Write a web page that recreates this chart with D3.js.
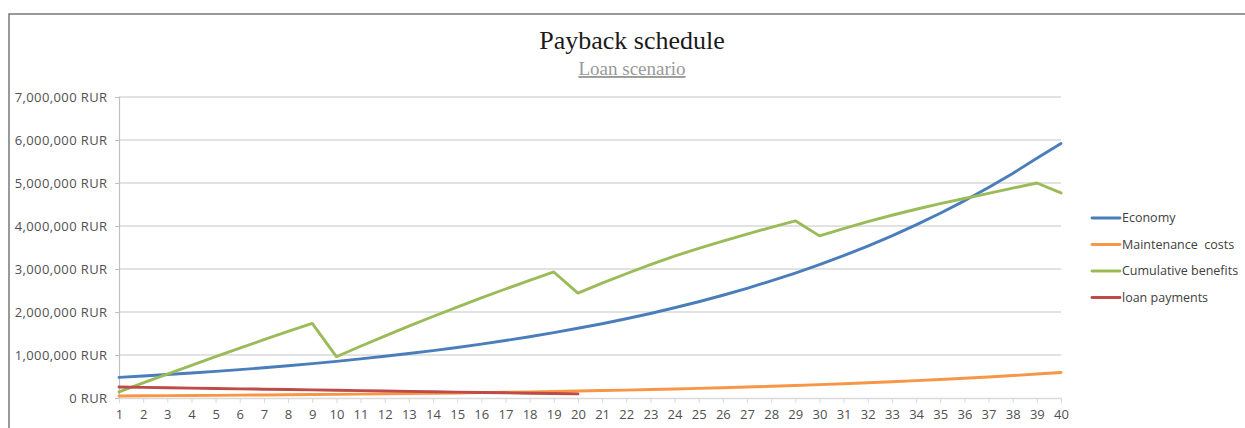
<!DOCTYPE html>
<html>
<head>
<meta charset="utf-8">
<script src="https://cdn.jsdelivr.net/npm/d3@7"></script>
<style>
  html, body { margin: 0; padding: 0; background: #ffffff; }
  svg { display: block; }
</style>
</head>
<body>
<svg id="chart" width="1245" height="428"></svg>
<script>
// ---- Data ----
const categories = d3.range(1, 41);

const economy = [
  480000, 511000, 545000, 581000, 620000, 661000, 704000, 751000, 800000, 853000,
  910000, 970000, 1034000, 1102000, 1175000, 1253000, 1336000, 1425000, 1520000, 1622000,
  1726000, 1842000, 1966000, 2098000, 2239000, 2390000, 2551000, 2723000, 2906000, 3102000,
  3310000, 3533000, 3771000, 4025000, 4296000, 4585000, 4894000, 5223000, 5574000, 5920000
];

const maintenance = [
  48000, 51000, 55000, 58000, 62000, 66000, 70000, 75000, 80000, 85000,
  91000, 97000, 103000, 110000, 118000, 125000, 134000, 143000, 152000, 162000,
  173000, 184000, 197000, 210000, 224000, 239000, 255000, 272000, 291000, 310000,
  331000, 353000, 377000, 403000, 430000, 459000, 489000, 522000, 557000, 594000
];

const cumulative = [
  140000, 350000, 557000, 761000, 962000, 1160000, 1355000, 1547000, 1736000,
  960000, 1203000, 1440000, 1671000, 1896000, 2115000, 2328000, 2535000, 2736000, 2931000,
  2440000, 2670000, 2890000, 3100000, 3300000, 3480000, 3650000, 3810000, 3970000, 4120000,
  3770000, 3940000, 4100000, 4250000, 4390000, 4520000, 4640000, 4760000, 4880000, 5000000,
  4770000
];

const loanPayments = [
  255000, 247000, 238000, 230000, 221000, 213000, 205000, 196000, 188000, 179000,
  171000, 163000, 154000, 146000, 137000, 129000, 121000, 112000, 104000, 95000
];

const yTicks = [0, 1000000, 2000000, 3000000, 4000000, 5000000, 6000000, 7000000];
const seriesNames = ["Economy", "Maintenance  costs", "Cumulative benefits", "loan payments"];
const seriesColors = ["#4a7ebb", "#f79646", "#9bbb59", "#be4b48"];
const titleText = "Payback schedule";
const subtitleText = "Loan scenario";

// ---- Drawing ----
const svg = d3.select("#chart");
const W = 1245, H = 428;
const plot = { left: 119, right: 1061, top: 97, bottom: 398 };

// frame
svg.append("rect")
  .attr("x", 9).attr("y", 14)
  .attr("width", W + 20).attr("height", H + 20)
  .attr("fill", "#ffffff")
  .attr("stroke", "#808080").attr("stroke-width", 1.6);

const x = d3.scalePoint().domain(categories).range([plot.left, plot.right]).padding(0);
const y = d3.scaleLinear().domain([0, 7000000]).range([plot.bottom, plot.top]);

const fmt = d3.format(",");
const labelFont = "'Open Sans', 'Liberation Sans', sans-serif";

// gridlines
svg.append("g")
  .selectAll("line").data(yTicks.filter(d => d > 0)).join("line")
  .attr("x1", plot.left).attr("x2", plot.right)
  .attr("y1", d => y(d)).attr("y2", d => y(d))
  .attr("stroke", "#d9d9d9").attr("stroke-width", 1.3);

// y axis
const yAxis = d3.axisLeft(y).tickValues(yTicks).tickSize(4).tickPadding(8)
  .tickFormat(d => fmt(d) + " RUR");
const gy = svg.append("g").attr("transform", `translate(${plot.left},0)`).call(yAxis);
gy.select(".domain").attr("stroke", "#bfbfbf").attr("stroke-width", 1.2);
gy.selectAll(".tick line").attr("stroke", "#bfbfbf");
gy.selectAll(".tick text")
  .attr("font-family", labelFont).attr("font-size", "13px")
  .attr("letter-spacing", "0.4px")
  .attr("fill", "#505050").attr("x", -11.5);

// x axis
const xAxis = d3.axisBottom(x).tickSize(5).tickPadding(7).tickSizeOuter(0);
const gx = svg.append("g").attr("transform", `translate(0,${plot.bottom})`).call(xAxis);
gx.select(".domain").attr("stroke", "#d9d9d9").attr("stroke-width", 1.3);
gx.selectAll(".tick line").attr("stroke", "#d9d9d9");
gx.selectAll(".tick text")
  .attr("font-family", labelFont).attr("font-size", "13px")
  .attr("fill", "#505050");

// lines
const allSeries = [economy, maintenance, cumulative, loanPayments];
const line = d3.line()
  .x((d, i) => x(categories[i]))
  .y(d => y(d));

allSeries.forEach((s, k) => {
  svg.append("path")
    .datum(s)
    .attr("fill", "none")
    .attr("stroke", seriesColors[k])
    .attr("stroke-width", 2.9)
    .attr("stroke-linejoin", "round")
    .attr("stroke-linecap", "round")
    .attr("d", line);
});

// title
svg.append("text")
  .attr("x", 632).attr("y", 49)
  .attr("text-anchor", "middle")
  .attr("font-family", "'Liberation Serif', 'Times New Roman', serif")
  .attr("font-size", "26px")
  .attr("fill", "#1a1a1a")
  .text(titleText);

svg.append("text")
  .attr("x", 632).attr("y", 75)
  .attr("text-anchor", "middle")
  .attr("font-family", "'Liberation Serif', 'Times New Roman', serif")
  .attr("font-size", "19px")
  .attr("fill", "#999999")
  .attr("text-decoration", "underline")
  .text(subtitleText);

// legend
const legendY = [218, 244.5, 271, 297.5];
const lg = svg.append("g");
seriesNames.forEach((name, k) => {
  lg.append("line")
    .attr("x1", 1092).attr("x2", 1120)
    .attr("y1", legendY[k]).attr("y2", legendY[k])
    .attr("stroke", seriesColors[k]).attr("stroke-width", 2.9)
    .attr("stroke-linecap", "round");
  lg.append("text")
    .attr("x", 1122).attr("y", legendY[k])
    .attr("dy", "0.35em")
    .attr("font-family", labelFont).attr("font-size", "12.5px")
    .attr("fill", "#404040")
    .style("white-space", "pre")
    .text(name);
});
</script>
</body>
</html>
